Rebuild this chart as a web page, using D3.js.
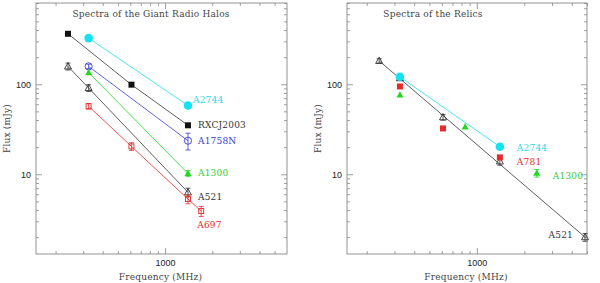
<!DOCTYPE html>
<html>
<head>
<meta charset="UTF-8">
<title>Spectra of the Giant Radio Halos and Relics</title>
<style>
  body { margin: 0; background: #fff; }
  .lbl { font-family: "DejaVu Serif", serif; font-size: 9px; letter-spacing: 0.2px; }
  .tick text { font-family: "Liberation Sans", sans-serif; font-size: 9px; fill: #222; }
</style>
</head>
<body>
<svg class="chart" width="600" height="283"></svg>
<script src="https://d3js.org/d3.v7.min.js"></script>
<script>

/* DATA: frequency in MHz, flux in mJy, err = flux error (mJy) */

// giant radio halos
var haloA2744Freq = [325, 1400];
var haloA2744Flux = [326, 58];

var haloRXCJ2003Freq = [240, 610, 1400];
var haloRXCJ2003Flux = [364, 99, 35];

var haloA1758NFreq = [325, 1400];
var haloA1758NFlux = [158, 23.6];
var haloA1758NErr  = [9, 5];

var haloA1300Freq = [325, 1400];
var haloA1300Flux = [135, 10.2];
var haloA1300Err  = [0, 0.8];

var haloA521Freq = [240, 325, 1400];
var haloA521Flux = [158, 91, 6.3];
var haloA521Err  = [14, 8, 0.7];

var haloA697Freq = [325, 610, 1400, 1700];
var haloA697Flux = [57, 20.4, 5.3, 3.9];
var haloA697Err  = [4, 2, 0.6, 0.5];

// relics
var relicA521Freq = [240, 325, 610, 1400, 4860];
var relicA521Flux = [182, 117, 43, 13.9, 2.0];
var relicA521Err  = [10, 7, 3, 1.3, 0.2];

var relicA2744Freq = [325, 1400];
var relicA2744Flux = [121, 20.2];

var relicA781Freq = [325, 610, 1400];
var relicA781Flux = [94.5, 32.3, 15.4];

var relicA1300Freq = [325, 843, 2400];
var relicA1300Flux = [76, 33.7, 10.3];
var relicA1300Err  = [0, 0, 1];

// axis ticks
var xMajor = [1000];
var xMinor = [200, 300, 400, 500, 600, 700, 800, 900, 2000, 3000, 4000, 5000];
var yMajor = [10, 100];
var yMinor = [2, 3, 4, 5, 6, 7, 8, 9, 20, 30, 40, 50, 60, 70, 80, 90, 200, 300, 400, 500, 600, 700, 800];

/* HELPERS */

function pts(freq, flux, err) {
  return freq.map(function(f, i) {
    return { f: f, s: flux[i], e: err ? err[i] : 0 };
  });
}

var CYAN = "#14e2f0", BLUE = "#3a3ad8", GREEN = "#22d822", RED = "#e62a2a", BLACK = "#111";

var panels = [
  {
    title: "Spectra of the Giant Radio Halos", titleX: 151,
    left: 36, right: 287, xMax: 6000,
    series: [
      { name: "A2744",    color: CYAN,  text: "#2cd8ea", marker: "disc",      line: "path", data: pts(haloA2744Freq, haloA2744Flux), dx: 5, dy: -6, anchor: "start" },
      { name: "RXCJ2003", color: BLACK, text: "#333",    marker: "square",    line: "path", data: pts(haloRXCJ2003Freq, haloRXCJ2003Flux), dx: 10, dy: 0, anchor: "start" },
      { name: "A1758N",   color: BLUE,  text: BLUE,      marker: "circle",    line: "path", data: pts(haloA1758NFreq, haloA1758NFlux, haloA1758NErr), dx: 10, dy: 0, anchor: "start" },
      { name: "A1300",    color: GREEN, text: "#33cc33", marker: "triangle",  line: "path", data: pts(haloA1300Freq, haloA1300Flux, haloA1300Err), dx: 10, dy: -1, anchor: "start" },
      { name: "A521",     color: "#333", text: "#333",   marker: "openTri",   line: "path", data: pts(haloA521Freq, haloA521Flux, haloA521Err), dx: 10, dy: 5, anchor: "start" },
      { name: "A697",     color: RED,   text: RED,       marker: "openSquare", line: "path", data: pts(haloA697Freq, haloA697Flux, haloA697Err), dx: -4, dy: 14, anchor: "start" }
    ]
  },
  {
    title: "Spectra of the Relics", titleX: 433,
    left: 347, right: 587, xMax: 5000,
    series: [
      { name: "A521",  color: "#333", text: "#333",   marker: "openTri",  line: "fit",  data: pts(relicA521Freq, relicA521Flux, relicA521Err), dx: -12, dy: -2, anchor: "end" },
      { name: "A2744", color: CYAN,  text: "#2cd8ea", marker: "disc",     line: "path", data: pts(relicA2744Freq, relicA2744Flux), dx: 17, dy: 1, anchor: "start" },
      { name: "A781",  color: RED,   text: RED,       marker: "square",   line: "none", data: pts(relicA781Freq, relicA781Flux), dx: 17, dy: 4, anchor: "start" },
      { name: "A1300", color: GREEN, text: "#33cc33", marker: "triangle", line: "none", data: pts(relicA1300Freq, relicA1300Flux, relicA1300Err), dx: 16, dy: 3, anchor: "start" }
    ]
  }
];

var plotTop = 3, plotBottom = 254;
var svg = d3.select("svg.chart");

function drawMarker(g, type, x, y, color) {
  if (type === "disc") {
    g.append("circle").attr("cx", x).attr("cy", y).attr("r", 4.3).attr("fill", color);
  } else if (type === "circle") {
    g.append("circle").attr("cx", x).attr("cy", y).attr("r", 3.6)
      .attr("fill", "none").attr("stroke", color).attr("stroke-width", 0.9);
  } else if (type === "square") {
    g.append("rect").attr("x", x - 3).attr("y", y - 3).attr("width", 6).attr("height", 6).attr("fill", color);
  } else if (type === "openSquare") {
    g.append("rect").attr("x", x - 2.5).attr("y", y - 2.5).attr("width", 5).attr("height", 5)
      .attr("fill", "none").attr("stroke", color).attr("stroke-width", 0.9);
  } else if (type === "triangle" || type === "openTri") {
    var tri = "M" + x + "," + (y - 3.8) + "L" + (x + 3.5) + "," + (y + 2.6) + "L" + (x - 3.5) + "," + (y + 2.6) + "Z";
    var p = g.append("path").attr("d", tri);
    if (type === "triangle") p.attr("fill", color);
    else p.attr("fill", "none").attr("stroke", color).attr("stroke-width", 0.9);
  }
}

panels.forEach(function(panel) {
  var x = d3.scaleLog().domain([150, panel.xMax]).range([panel.left, panel.right]);
  var y = d3.scaleLog().domain([1.3, 800]).range([plotBottom, plotTop]);
  var g = svg.append("g");
  var w = panel.right - panel.left, h = plotBottom - plotTop;

  // axes: ticks inside on all four sides
  function axes(gen, tx, ty, size, vals, labels) {
    var a = gen.tickValues(vals).tickSizeInner(-size).tickSizeOuter(0);
    if (!labels) a.tickFormat("");
    var ag = g.append("g").attr("transform", "translate(" + tx + "," + ty + ")").call(a);
    ag.select(".domain").remove();
    ag.selectAll("line").attr("stroke", "#888").attr("stroke-width", 0.8);
    return ag;
  }
  axes(d3.axisBottom(x).tickPadding(6).tickFormat(d3.format("d")), 0, plotBottom, 6, xMajor, true);
  axes(d3.axisBottom(x), 0, plotBottom, 3, xMinor, false);
  axes(d3.axisTop(x), 0, plotTop, 6, xMajor, false);
  axes(d3.axisTop(x), 0, plotTop, 3, xMinor, false);
  axes(d3.axisLeft(y).tickPadding(5).tickFormat(d3.format("d")), panel.left, 0, 6, yMajor, true);
  axes(d3.axisLeft(y), panel.left, 0, 3, yMinor, false);
  axes(d3.axisRight(y), panel.right, 0, 6, yMajor, false);
  axes(d3.axisRight(y), panel.right, 0, 3, yMinor, false);

  g.append("rect")
    .attr("x", panel.left).attr("y", plotTop).attr("width", w).attr("height", h)
    .attr("fill", "none").attr("stroke", "#888").attr("stroke-width", 0.9);

  // titles
  g.append("text").attr("class", "lbl")
    .attr("x", panel.titleX).attr("y", 17).attr("text-anchor", "middle")
    .attr("fill", "#444").text(panel.title);
  g.append("text").attr("class", "lbl")
    .attr("x", (panel.left + panel.right) / 2 - 1).attr("y", 280).attr("text-anchor", "middle")
    .attr("fill", "#444").text("Frequency (MHz)");
  g.append("text").attr("class", "lbl")
    .attr("transform", "translate(" + (panel.left - 29) + "," + ((plotTop + plotBottom) / 2) + ") rotate(-90)")
    .attr("text-anchor", "middle").attr("dy", "0.35em").attr("fill", "#444").text("Flux (mJy)");

  var line = d3.line().x(function(d) { return x(d.f); }).y(function(d) { return y(d.s); });

  panel.series.forEach(function(s) {
    var sg = g.append("g");
    if (s.line === "path") {
      sg.append("path").datum(s.data).attr("d", line)
        .attr("fill", "none").attr("stroke", s.color === BLACK ? "#333" : s.color).attr("stroke-width", 0.8);
    } else if (s.line === "fit") {
      sg.append("path").datum([s.data[0], s.data[s.data.length - 1]]).attr("d", line)
        .attr("fill", "none").attr("stroke", "#333").attr("stroke-width", 0.8);
    }
    s.data.forEach(function(d) {
      var cx = x(d.f), cy = y(d.s);
      if (d.e > 0) {
        var y1 = y(d.s + d.e), y2 = y(d.s - d.e);
        sg.append("line").attr("x1", cx).attr("x2", cx).attr("y1", y1).attr("y2", y2)
          .attr("stroke", s.color).attr("stroke-width", 0.8);
        [y1, y2].forEach(function(yy) {
          sg.append("line").attr("x1", cx - 2.5).attr("x2", cx + 2.5).attr("y1", yy).attr("y2", yy)
            .attr("stroke", s.color).attr("stroke-width", 0.8);
        });
      }
      drawMarker(sg, s.marker, cx, cy, s.color);
    });
    var last = s.data[s.data.length - 1];
    sg.append("text").attr("class", "lbl")
      .attr("x", x(last.f) + s.dx).attr("y", y(last.s) + s.dy)
      .attr("dy", "0.35em").attr("text-anchor", s.anchor)
      .attr("fill", s.text).text(s.name);
  });
});

</script>
</body>
</html>
